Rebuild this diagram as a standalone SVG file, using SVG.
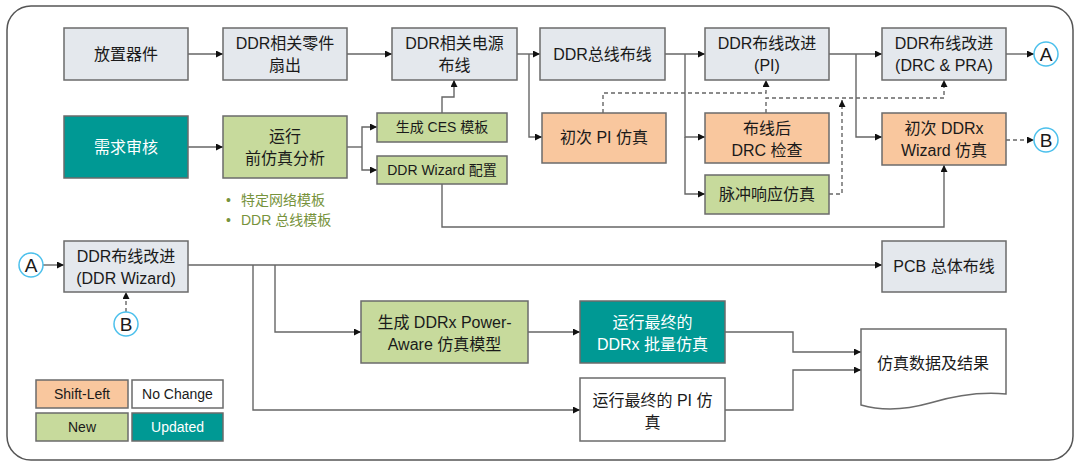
<svg xmlns="http://www.w3.org/2000/svg" width="1080" height="469" viewBox="0 0 1080 469">
<defs>
<marker id="ah" markerUnits="userSpaceOnUse" markerWidth="8" markerHeight="8" refX="7" refY="3.5" orient="auto"><path d="M0,0 L7,3.5 L0,7 z" fill="#111"/></marker>
<style>
text{font-family:"Liberation Sans","Noto Sans CJK SC",sans-serif;font-size:16px;fill:#1a1a1a;text-anchor:middle}
.box{stroke:#6b6b6b;stroke-width:1.5}
.gray{fill:#e4e8ed}
.teal{fill:#009994}
.green{fill:#c7da9c}
.orange{fill:#f9c79e}
.white{fill:#ffffff}
.wt{fill:#ffffff}
.sm{font-size:14px}
.bul{font-size:14px;fill:#77933c;text-anchor:start}
.ln{fill:none;stroke:#666;stroke-width:1.4}
.ar{marker-end:url(#ah)}
.ds{stroke-dasharray:4 3}
.cir{fill:#fff;stroke:#4cc0ec;stroke-width:1.5}
.ct{font-size:19px}
</style>
</defs>
<rect x="7" y="6" width="1066" height="454" rx="24" fill="#fff" stroke="#555" stroke-width="1.5"/>

<g id="connectors">
<path class="ln ar" d="M188,54 H223"/>
<path class="ln ar" d="M347,54 H392"/>
<path class="ln ar" d="M517,54 H540"/>
<path class="ln ar" d="M529,54 V137 H542"/>
<path class="ln ar" d="M665,54 H705"/>
<path class="ln ar" d="M685,54 V137 H705"/>
<path class="ln ar" d="M685,137 V194 H705"/>
<path class="ln ar" d="M829,54 H882"/>
<path class="ln ar" d="M856,54 V137 H882"/>
<path class="ln ar" d="M1006,54 H1034"/>
<path class="ln ar ds" d="M1006,140 H1034"/>
<path class="ln ar" d="M188,147 H223"/>
<path class="ln" d="M347,147 H362"/>
<path class="ln ar" d="M362,147 V127 H377"/>
<path class="ln ar" d="M362,147 V170 H377"/>
<path class="ln ar" d="M442,113 V97 H454 V80"/>
<path class="ln ar" d="M442,184 V227 H944 V165"/>
<path class="ln ar ds" d="M603,113 V93 H766 V80"/>
<path class="ln ar ds" d="M766,113 V98 H944 V80"/>
<path class="ln ar ds" d="M829,194 H842 V100"/>
<path class="ln ar" d="M43,265 H64"/>
<path class="ln ar ds" d="M126,312 V292"/>
<path class="ln ar" d="M188,265 H882"/>
<path class="ln ar" d="M253,265 V410 H580"/>
<path class="ln ar" d="M275,265 V332 H361"/>
<path class="ln ar" d="M528,332 H580"/>
<path class="ln ar" d="M725,332 H793 V352 H861"/>
<path class="ln ar" d="M725,410 H793 V370 H861"/>
</g>

<g id="n_place"><rect class="box gray" x="64" y="28" width="124" height="52"/><text x="126" y="60">放置器件</text></g>
<g id="n_fanout"><rect class="box gray" x="223" y="28" width="124" height="52"/><text x="285" y="49">DDR相关零件</text><text x="285" y="71">扇出</text></g>
<g id="n_power"><rect class="box gray" x="392" y="28" width="125" height="52"/><text x="454.5" y="49">DDR相关电源</text><text x="454.5" y="71">布线</text></g>
<g id="n_bus"><rect class="box gray" x="540" y="28" width="125" height="52"/><text x="602.5" y="60">DDR总线布线</text></g>
<g id="n_pi"><rect class="box gray" x="705" y="28" width="124" height="52"/><text x="767" y="49">DDR布线改进</text><text x="767" y="71">(PI)</text></g>
<g id="n_drcpra"><rect class="box gray" x="882" y="28" width="124" height="52"/><text x="944" y="49">DDR布线改进</text><text x="944" y="71">(DRC &amp; PRA)</text></g>
<g id="c_a1"><circle class="cir" cx="1046" cy="54" r="12"/><text class="ct" x="1046" y="61">A</text></g>

<g id="n_req"><rect class="box teal" x="64" y="116" width="124" height="62"/><text class="wt" x="126" y="153">需求审核</text></g>
<g id="n_presim"><rect class="box green" x="223" y="116" width="124" height="62"/><text x="285" y="142">运行</text><text x="285" y="164">前仿真分析</text></g>
<g id="n_ces"><rect class="box green" x="377" y="113" width="130" height="29"/><text class="sm" x="442" y="132">生成 CES 模板</text></g>
<g id="n_wizcfg"><rect class="box green" x="377" y="156" width="130" height="28"/><text class="sm" x="442" y="175">DDR Wizard 配置</text></g>
<g id="bullets"><text class="bul" x="226" y="205">•</text><text class="bul" x="241" y="205">特定网络模板</text><text class="bul" x="226" y="225">•</text><text class="bul" x="241" y="225">DDR 总线模板</text></g>
<g id="n_pisim"><rect class="box orange" x="542" y="113" width="124" height="50"/><text x="604" y="143">初次 PI 仿真</text></g>
<g id="n_drc"><rect class="box orange" x="705" y="113" width="124" height="50"/><text x="767" y="134">布线后</text><text x="767" y="156">DRC 检查</text></g>
<g id="n_pulse"><rect class="box green" x="705" y="175" width="124" height="39"/><text x="767" y="200">脉冲响应仿真</text></g>
<g id="n_wizsim"><rect class="box orange" x="882" y="113" width="124" height="52"/><text x="944" y="134">初次 DDRx</text><text x="944" y="156">Wizard 仿真</text></g>
<g id="c_b1"><circle class="cir" cx="1046" cy="140" r="12"/><text class="ct" x="1046" y="147">B</text></g>

<g id="c_a2"><circle class="cir" cx="31" cy="265" r="12"/><text class="ct" x="31" y="272">A</text></g>
<g id="n_wizimp"><rect class="box gray" x="64" y="241" width="124" height="51"/><text x="126" y="262">DDR布线改进</text><text x="126" y="284">(DDR Wizard)</text></g>
<g id="c_b2"><circle class="cir" cx="126" cy="324" r="12"/><text class="ct" x="126" y="331">B</text></g>
<g id="n_pcb"><rect class="box gray" x="882" y="241" width="124" height="51"/><text x="944" y="272">PCB 总体布线</text></g>
<g id="n_pa"><rect class="box green" x="361" y="301" width="167" height="62"/><text x="444.5" y="328">生成 DDRx Power-</text><text x="444.5" y="350">Aware 仿真模型</text></g>
<g id="n_batch"><rect class="box teal" x="580" y="301" width="145" height="62"/><text class="wt" x="652.5" y="328">运行最终的</text><text class="wt" x="652.5" y="350">DDRx 批量仿真</text></g>
<g id="n_finalpi"><rect class="box white" x="580" y="378" width="145" height="63"/><text x="652.5" y="406">运行最终的 PI 仿</text><text x="652.5" y="428">真</text></g>
<g id="n_data"><path class="box white" d="M861,329 H1006 V394 C985,392 960,394 930,403 C905,410 882,411 861,405 Z"/><text x="933" y="369">仿真数据及结果</text></g>

<g id="legend">
<rect class="box orange" x="36" y="380" width="92" height="28"/><text class="sm" x="82" y="399">Shift-Left</text>
<rect class="box white" x="132" y="380" width="91" height="28"/><text class="sm" x="177.5" y="399">No Change</text>
<rect class="box green" x="36" y="413" width="92" height="28"/><text class="sm" x="82" y="432">New</text>
<rect class="box teal" x="132" y="413" width="91" height="28"/><text class="sm wt" x="177.5" y="432">Updated</text>
</g>
</svg>
